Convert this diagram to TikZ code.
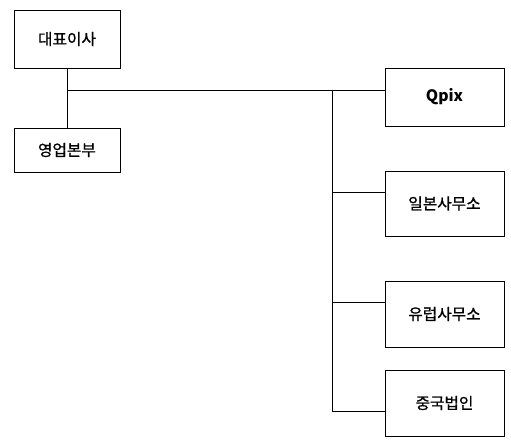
\documentclass[tikz,border=0pt]{standalone}
\usepackage{fontspec}
\setmainfont{Noto Sans CJK KR}
\newfontfamily\krfont{Noto Sans CJK KR}[FakeBold=0.9]
\usetikzlibrary{positioning}

\tikzset{
    orgbox/.style={draw,rectangle,line width=0.75pt,inner sep=0pt,
                   font=\krfont\fontsize{11.8}{13}\selectfont},
    headbox/.style={orgbox,minimum width=79.5pt},
    unitbox/.style={orgbox,minimum width=89.25pt},
    link/.style={line width=0.75pt}
}

\begin{document}
\begin{tikzpicture}[x=0.75pt,y=-0.75pt]
    \useasboundingbox (0,0) rectangle (511,443);
    \node[headbox,minimum height=43.5pt]                     (ceo)    at (67,39) {대표이사};
    \node[headbox,minimum height=33pt,below=44.25pt of ceo]  (sales)  {영업본부};
    \node[unitbox,minimum height=43.5pt]                     (qpix)   at (444.5,97) {\normalfont\fontsize{11.8}{13}\selectfont\textbf{Qpix}};
    \node[unitbox,minimum height=48.75pt,below=33pt of qpix] (japan)  {일본사무소};
    \node[unitbox,minimum height=49.5pt,below=33pt of japan] (europe) {유럽사무소};
    \node[unitbox,minimum height=49.5pt,below=16.5pt of europe] (china) {중국법인};
    %
    \coordinate (hub)   at (67,90);
    \coordinate (trunk) at (332,90);
    \coordinate (tapJ)  at (332,192);
    \coordinate (tapE)  at (332,302);
    \coordinate (tapC)  at (332,411);
    %
    \draw[link] (ceo.south) -- (sales.north);
    \draw[link] (hub) -- (hub -| qpix.west);
    \draw[link] (trunk) -- (tapC) -- (tapC -| china.west);
    \draw[link] (tapJ) -- (tapJ -| japan.west);
    \draw[link] (tapE) -- (tapE -| europe.west);
\end{tikzpicture}
\end{document}
